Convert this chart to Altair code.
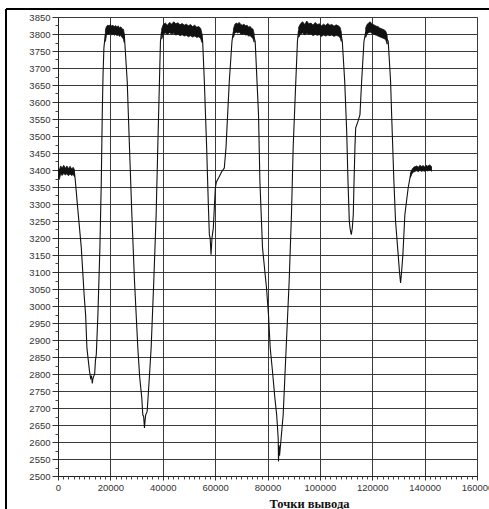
import altair as alt
import pandas as pd

# ---- main trace (x = output point index, y = value) ----
trace_x = [0, 6300, 6600, 7500, 8900, 10000, 10550, 11050, 12000, 12460, 12800, 13100, 13300, 13500, 14000, 14300, 14620,
           15240, 16000, 16530, 16900, 17200, 17530, 18050,
           21500, 25300, 25400, 26430, 27300, 28200, 29220, 30480, 31200, 32000, 32380, 32700, 33030, 33300, 33500, 34050,
           34800, 35570, 36570, 37480, 38100, 38740, 39120, 39500,
           47000, 55000, 55240, 55880, 56770, 57410, 57790, 58100, 58430, 58800, 59310, 59700, 60080, 60500, 61340,
           62500, 63500, 64150, 65410, 66430, 66930,
           71000, 74900, 75300, 76570, 77100, 78100, 79620, 80380, 81030, 81900, 82820, 83500, 84080, 84200, 84400,
           84600, 85100, 85990, 87130, 88270, 89150, 89800, 90810, 91430, 91810,
           100000, 108200, 108570, 109480, 110240, 110740, 111240, 111600, 112000, 112400, 112760, 113030, 113400,
           113680, 114550, 115310, 115950, 116830, 117480,
           121500, 125700, 126100, 127000, 127400, 128270, 128900, 129900, 130400, 130820, 131200, 131700, 132460,
           133710, 134630, 135500, 136530, 142630]
trace_y = [3395, 3392, 3370, 3290, 3171, 3030, 2974, 2876, 2810, 2788, 2795, 2772, 2785, 2790, 2800, 2840, 2857,
           2975, 3171, 3366, 3563, 3680, 3759, 3798,
           3812, 3795, 3788, 3661, 3466, 3269, 3072, 2877, 2790, 2729, 2680, 2675, 2641, 2668, 2680, 2690,
           2780, 2877, 3072, 3269, 3466, 3661, 3778, 3805,
           3814, 3795, 3778, 3661, 3465, 3298, 3210, 3200, 3151, 3200, 3229, 3290, 3347, 3365, 3377,
           3395, 3406, 3465, 3661, 3778, 3805,
           3812, 3790, 3778, 3563, 3366, 3171, 3053, 2974, 2877, 2808, 2729, 2680, 2612, 2543, 2590,
           2560, 2602, 2680, 2877, 3072, 3269, 3466, 3661, 3778, 3808,
           3812, 3795, 3778, 3661, 3514, 3366, 3249, 3225, 3210, 3230, 3269, 3362, 3470,
           3524, 3543, 3563, 3661, 3778, 3805,
           3810, 3785, 3778, 3661, 3563, 3366, 3249, 3151, 3100, 3068, 3100, 3151, 3269,
           3347, 3386, 3398, 3404, 3405]

# ---- noisy plateau bands (x, lower, upper) ----
band_x = [0, 500, 1000, 1600, 2200, 2800, 3400, 4000, 4600, 5200, 5800, 6300, None,
          18100, 18500, 19000, 19500, 20000, 20500, 21000, 21500, 22000, 22500, 23000, 23500, 24000, 24500, 25000, 25300, None,
          39600, 40200, 41000, 41800, 42600, 43400, 44200, 45000, 45800, 46600, 47400, 48200, 49000, 49800, 50600,
          51400, 52200, 53000, 53800, 54500, 55000, None,
          67000, 67500, 68000, 68600, 69200, 69800, 70400, 71000, 71600, 72200, 72800, 73400, 74000, 74500, 74900, None,
          91900, 92600, 93400, 94200, 95000, 95800, 96600, 97400, 98200, 99000, 99800, 100600, 101400, 102200, 103000,
          103800, 104600, 105400, 106200, 107000, 107700, 108200, None,
          117500, 118000, 118600, 119200, 119800, 120400, 121000, 121600, 122200, 122800, 123400, 124000, 124600, 125200, 125700, None,
          134600, 135200, 135800, 136400, 137000, 137600, 138200, 138800, 139400, 140000, 140600, 141200, 141800, 142400, 142630]
band_hi = [3405, 3400, 3412, 3406, 3414, 3405, 3412, 3404, 3411, 3403, 3408, 3400, None,
           3812, 3822, 3826, 3824, 3828, 3823, 3826, 3821, 3825, 3820, 3824, 3818, 3821, 3815, 3814, 3800, None,
           3815, 3828, 3832, 3826, 3834, 3829, 3836, 3830, 3833, 3827, 3831, 3826, 3829, 3824, 3828,
           3822, 3826, 3820, 3822, 3816, 3800, None,
           3815, 3828, 3832, 3830, 3834, 3828, 3826, 3829, 3824, 3826, 3820, 3822, 3816, 3814, 3800, None,
           3820, 3830, 3836, 3828, 3838, 3830, 3832, 3826, 3834, 3828, 3830, 3824, 3829, 3825, 3831,
           3826, 3828, 3823, 3827, 3824, 3820, 3805, None,
           3818, 3828, 3832, 3836, 3830, 3828, 3825, 3823, 3822, 3818, 3816, 3814, 3812, 3808, 3795, None,
           3392, 3402, 3408, 3410, 3412, 3408, 3414, 3410, 3413, 3409, 3414, 3411, 3415, 3412, 3410]
band_lo = [3380, 3372, 3388, 3384, 3390, 3385, 3389, 3383, 3388, 3384, 3387, 3380, None,
           3778, 3796, 3800, 3798, 3802, 3797, 3800, 3796, 3799, 3795, 3798, 3793, 3796, 3790, 3785, 3775, None,
           3785, 3800, 3803, 3799, 3804, 3800, 3802, 3797, 3800, 3795, 3798, 3794, 3796, 3792, 3795,
           3791, 3794, 3790, 3792, 3786, 3775, None,
           3790, 3802, 3806, 3803, 3805, 3800, 3799, 3801, 3797, 3798, 3794, 3795, 3790, 3786, 3776, None,
           3790, 3800, 3803, 3798, 3802, 3799, 3801, 3795, 3799, 3796, 3798, 3793, 3797, 3794, 3797,
           3795, 3797, 3793, 3796, 3794, 3790, 3778, None,
           3790, 3800, 3804, 3806, 3802, 3800, 3798, 3796, 3794, 3792, 3790, 3788, 3786, 3782, 3770, None,
           3378, 3390, 3394, 3396, 3398, 3395, 3399, 3396, 3398, 3396, 3399, 3397, 3400, 3398, 3396]

# ---- axis ticks ----
x_major = list(range(0, 160001, 20000))
x_minor = [v for v in range(0, 160001, 2000) if v % 20000 != 0]
y_major = list(range(2500, 3851, 50))
y_minor = list(range(2525, 3850, 50))

x_title = "Точки вывода"

# build tables
trace = pd.DataFrame({"x": trace_x, "y": trace_y})
seg = []
s = 0
for v in band_x:
    if v is None:
        s += 1
    seg.append(s)
band = pd.DataFrame({"x": band_x, "lo": band_lo, "hi": band_hi, "seg": seg}).dropna()

xs = alt.Scale(domain=[0, 160000], nice=False, zero=False)
ys = alt.Scale(domain=[2500, 3850], nice=False, zero=False)

lab = dict(labelFont="Liberation Sans", labelFontSize=9.5, labelColor="#333")

x_axis = alt.Axis(orient="bottom", values=x_major, format="d", grid=True, gridColor="#3a3a3a", gridWidth=1,
                  tickSize=4, tickColor="#333", domainColor="#222", labelPadding=2,
                  title=x_title, titleFont="Liberation Serif", titleFontSize=12.5, titleFontWeight="bold",
                  titleColor="#111", titleX=251, titleY=27, titleAlign="center", titleBaseline="middle",
                  labelFlush=False, **lab)
y_axis = alt.Axis(orient="left", values=y_major, format="d", grid=True, gridColor="#3a3a3a", gridWidth=1,
                  tickSize=6, tickColor="#333", domainColor="#222", labelPadding=2, title=None, **lab)

x_axis_minor = alt.Axis(orient="bottom", values=x_minor, labels=False, grid=False, tickSize=3, tickColor="#444",
                        domain=False, title=None)
y_axis_minor = alt.Axis(orient="left", values=y_minor, labels=False, grid=False, tickSize=3, tickColor="#444",
                        domain=False, title=None)

line = alt.Chart(trace).mark_line(color="#111", strokeWidth=1.1, clip=True).encode(
    x=alt.X("x:Q", scale=xs, axis=x_axis),
    y=alt.Y("y:Q", scale=ys, axis=y_axis),
)

bands = alt.Chart(band).mark_area(color="#111", opacity=1, clip=True, stroke="#111", strokeWidth=0.8).encode(
    x=alt.X("x:Q", scale=xs, axis=x_axis_minor),
    y=alt.Y("lo:Q", scale=ys, axis=y_axis_minor),
    y2="hi:Q",
    detail="seg:N",
)

frame_df = pd.DataFrame({"k": [0]})
frame_top = alt.Chart(frame_df).mark_rule(color="#000", strokeWidth=2).encode(
    x=alt.value(-52), x2=alt.value(440), y=alt.value(-8))
frame_left = alt.Chart(frame_df).mark_rule(color="#000", strokeWidth=2).encode(
    x=alt.value(-52), y=alt.value(-8), y2=alt.value(500))

chart = alt.layer(line, bands, frame_top, frame_left).resolve_axis(
    x="independent", y="independent"
).properties(
    width=419, height=459,
    autosize=alt.AutoSizeParams(type="none"),
    padding={"left": 58, "top": 17, "right": 12, "bottom": 33},
    background="white",
).configure_view(stroke="#888", strokeWidth=1)

chart.save("out.html", embed_options={"renderer": "svg", "actions": False})
